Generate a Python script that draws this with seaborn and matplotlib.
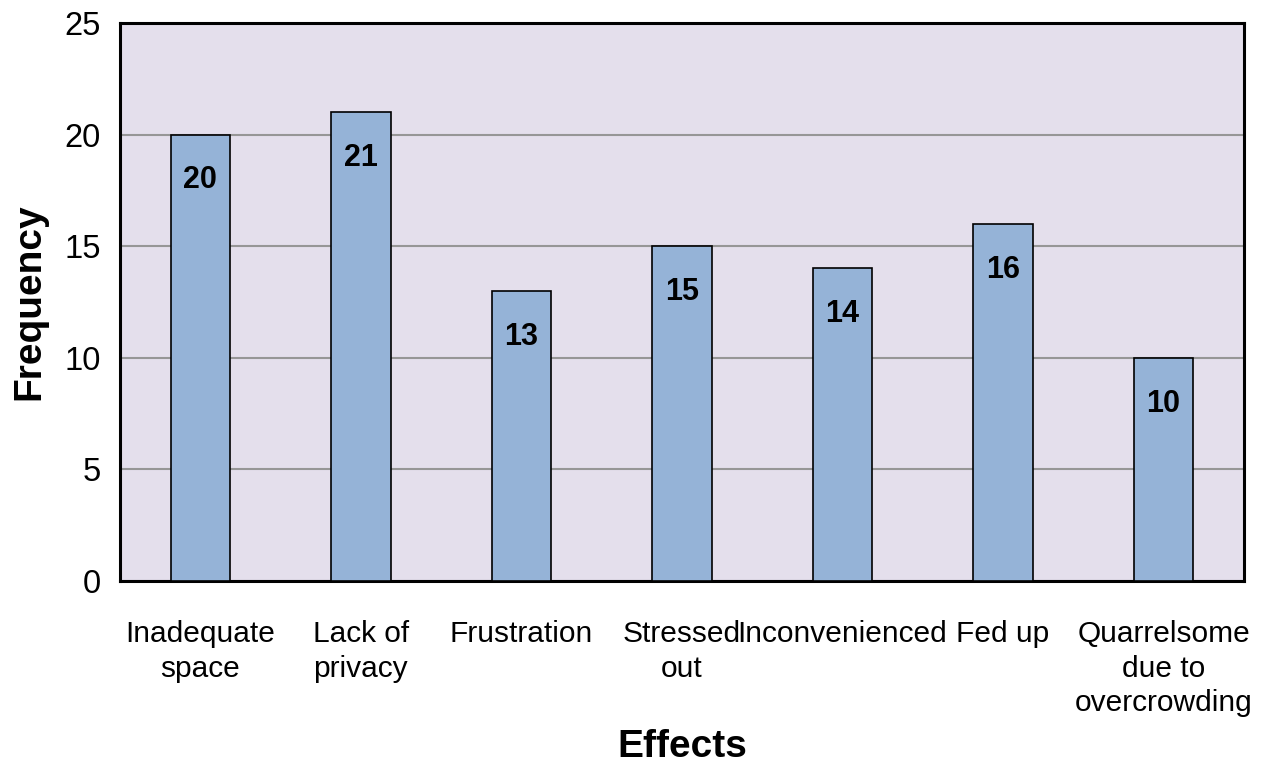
import matplotlib
matplotlib.use('Agg')
import matplotlib.pyplot as plt
import seaborn as sns
import pandas as pd

# data
effects = ['Inadequate\nspace', 'Lack of\nprivacy', 'Frustration', 'Stressed\nout',
           'Inconvenienced', 'Fed up', 'Quarrelsome\ndue to\novercrowding']
frequency = [20, 21, 13, 15, 14, 16, 10]
y_ticks = [0, 5, 10, 15, 20, 25]

df = pd.DataFrame({'Effects': effects, 'Frequency': frequency})

sns.set_style('white')
plt.rcParams['font.family'] = ['Liberation Sans', 'DejaVu Sans']
plt.rcParams['text.color'] = 'black'
plt.rcParams['axes.labelcolor'] = 'black'
plt.rcParams['xtick.color'] = 'black'
plt.rcParams['ytick.color'] = 'black'

fig = plt.figure(figsize=(12.81, 7.63), dpi=100)
ax = fig.add_axes([0.0937, 0.2385, 0.8773, 0.7315])
ax.set_facecolor('#E4DFEC')

sns.barplot(data=df, x='Effects', y='Frequency', color='#95B3D7', width=0.37,
            edgecolor='black', linewidth=1.2, saturation=1, ax=ax, zorder=3)

# value labels inside the bars
for i, v in enumerate(frequency):
    ax.annotate(str(v), (i, v), xytext=(0, -33), textcoords='offset points',
                ha='center', va='center', fontsize=22, fontweight='bold',
                color='black', zorder=4)

ax.set_ylim(0, 25)
ax.set_yticks(y_ticks)
ax.yaxis.grid(True, color='#969696', linewidth=1.5, zorder=0)
ax.set_axisbelow(True)
ax.tick_params(axis='y', labelsize=23.5, length=3, width=1.2, color='#969696',
               labelcolor='black', pad=11)
ax.tick_params(axis='x', labelsize=21.5, length=0, pad=28, labelcolor='black')
for lbl in ax.get_xticklabels():
    lbl.set_linespacing(1.3)

for s in ax.spines.values():
    s.set_visible(True)
    s.set_color('black')
    s.set_linewidth(2.2)

ax.set_xlabel('Effects', fontsize=28, fontweight='bold', va='center')
ax.xaxis.set_label_coords(0.5, -0.298)
ax.set_ylabel('Frequency', fontsize=28, fontweight='bold', labelpad=12)

fig.savefig('out.png', dpi=100)
